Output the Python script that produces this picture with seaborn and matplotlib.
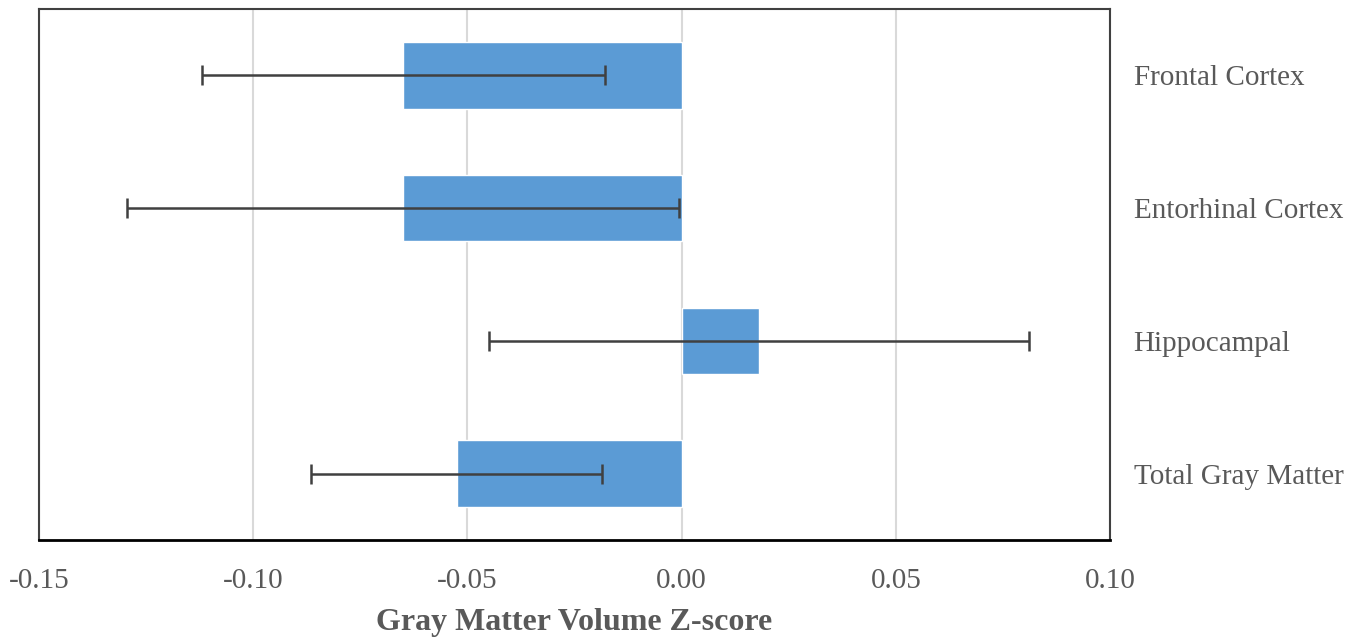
import matplotlib
matplotlib.use("Agg")
import matplotlib.pyplot as plt
import seaborn as sns
import pandas as pd

# data
regions = ["Frontal Cortex", "Entorhinal Cortex", "Hippocampal", "Total Gray Matter"]
zscores = [-0.065, -0.065, 0.018, -0.0525]
errors = [0.047, 0.0645, 0.063, 0.034]
xticks = [-0.15, -0.10, -0.05, 0.00, 0.05, 0.10]

df = pd.DataFrame({"Region": regions, "Z": zscores, "Err": errors})

sns.set_theme(style="white")
plt.rcParams["font.family"] = ["Liberation Serif", "DejaVu Serif"]

fig = plt.figure(figsize=(13.66, 6.39), dpi=100)
ax = fig.add_axes([0.0286, 0.155, 0.784, 0.831])

sns.barplot(data=df, x="Z", y="Region", order=regions, orient="h",
            color="#5B9BD5", saturation=1, width=0.5, ax=ax, zorder=2)
ax.errorbar(df["Z"], range(len(regions)), xerr=df["Err"], fmt="none",
            ecolor="#404040", elinewidth=1.8, capsize=7, capthick=1.8, zorder=3)

ax.set_xlim(-0.15, 0.10)
ax.set_ylim(len(regions) - 0.5, -0.5)
ax.set_xticks(xticks)
ax.set_xticklabels([f"{t:.2f}" for t in xticks], fontsize=21, color="#595959")
ax.xaxis.grid(True, color="#D9D9D9", linewidth=1.5, zorder=0)
ax.set_axisbelow(True)
ax.tick_params(axis="x", direction="in", length=5, width=1.5, color="black", pad=20)

ax.yaxis.tick_right()
ax.tick_params(axis="y", length=0, pad=17, labelsize=21, labelcolor="#595959")
ax.set_ylabel("")
ax.set_xlabel("Gray Matter Volume Z-score", fontsize=23, fontweight="bold",
              color="#595959", labelpad=10)

for side in ["left", "top", "right"]:
    ax.spines[side].set_visible(True)
    ax.spines[side].set_color("#404040")
    ax.spines[side].set_linewidth(1.5)
ax.spines["bottom"].set_color("black")
ax.spines["bottom"].set_linewidth(2)

fig.savefig("out.png", dpi=100)
